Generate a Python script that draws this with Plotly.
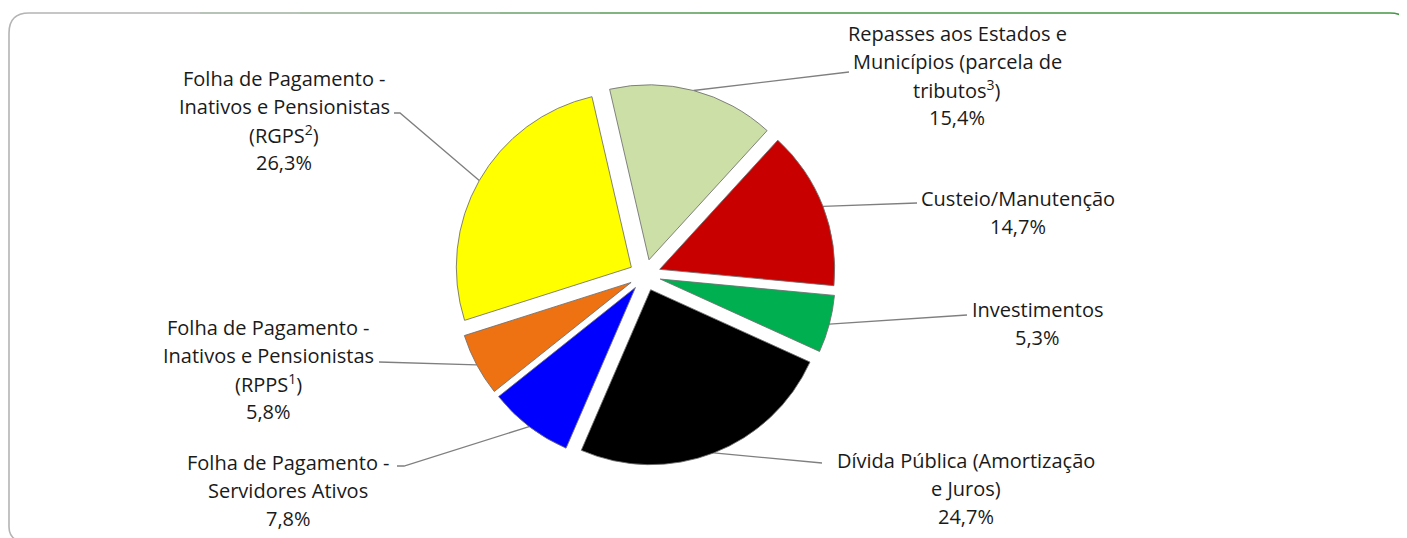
import math
import plotly.graph_objects as go

# ---------------- data ----------------
categories = [
    "Repasses aos Estados e<br>Municípios (parcela de<br>tributos<sup>3</sup>)",
    "Custeio/Manutenção",
    "Investimentos",
    "Dívida Pública (Amortização<br>e Juros)",
    "Folha de Pagamento -<br>Servidores Ativos",
    "Folha de Pagamento -<br>Inativos e Pensionistas<br>(RPPS<sup>1</sup>)",
    "Folha de Pagamento -<br>Inativos e Pensionistas<br>(RGPS<sup>2</sup>)",
]
values = [15.4, 14.7, 5.3, 24.7, 7.8, 5.8, 26.3]
colors = ["#CCDFA6", "#C80000", "#00B050", "#000000", "#0000FF", "#EE7211", "#FFFF00"]

# ---------------- layout constants ----------------
W, H = 1407, 538
OFF = 8                    # page body margin (screen px)
CX, CY = 645.0, 275.0      # pie centre (screen pixels)
R = 175.0                  # pie radius (pixels)
PULL = 0.09
ROTATION = -13.0           # start angle, clockwise from 12 o'clock

# label block centres and leader end points (elbow, end) in screen pixels
label_pos = [
    (957, 75), (1018, 212), (1037, 323), (966, 488),
    (288, 490), (268, 369), (284, 120),
]
leader_ends = [
    [(843, 73), (849, 72)],
    [(917, 203), (917, 203)],
    [(967, 315), (967, 315)],
    [(822, 463), (822, 463)],
    [(404, 466), (397, 466)],
    [(384, 362), (379, 362)],
    [(400, 113), (394, 113)],
]

FONT = "Open Sans"
FS = 20
LS = 28                    # line spacing (px)

half = R * (1 + PULL)
px, py = CX - OFF, CY - OFF
dom_x = [(px - half) / W, (px + half) / W]
dom_y = [(H - py - half) / H, (H - py + half) / H]

fig = go.Figure()

fig.add_trace(go.Pie(
    labels=[c.replace("<br>", " ") for c in categories],
    values=values,
    sort=False,
    direction="clockwise",
    rotation=ROTATION,
    pull=[PULL] * len(values),
    marker=dict(colors=colors, line=dict(color="rgba(110,110,110,0.85)", width=1)),
    textinfo="none",
    hoverinfo="label+percent",
    showlegend=False,
    domain=dict(x=dom_x, y=dom_y),
))

total = sum(values)
ang = ROTATION
for i, v in enumerate(values):
    span = v / total * 360.0
    mid = math.radians(ang + span / 2)
    ang += span
    sx = CX + R * (1 + PULL) * math.sin(mid)
    sy = CY - R * (1 + PULL) * math.cos(mid)
    pts = [(sx, sy)] + leader_ends[i]
    fig.add_trace(go.Scatter(
        x=[p[0] for p in pts], y=[p[1] for p in pts],
        mode="lines", line=dict(color="#7F7F7F", width=1.3),
        hoverinfo="skip", showlegend=False,
    ))
    pct = f"{v:.1f}".replace(".", ",") + "%"
    lines = categories[i].split("<br>") + [pct]
    lx, ly = label_pos[i]
    n = len(lines)
    for k, t in enumerate(lines):
        fig.add_annotation(
            x=lx, y=ly + (k - (n - 1) / 2) * LS, xref="x", yref="y",
            text=t, showarrow=False, align="center",
            xanchor="center", yanchor="middle",
            font=dict(family=FONT, size=FS, color="#1A1A1A"),
        )

# frame (rounded rectangle, grey on the left fading to green on top)
shapes = []
shapes.append(dict(type="path", xref="x", yref="y",
                   path="M 9,527 L 9,33 Q 9,13 29,13 L 200,13",
                   line=dict(color="#B4B4B4", width=1.6)))
shapes.append(dict(type="path", xref="x", yref="y",
                   path="M 9,527 Q 9,536 16,540",
                   line=dict(color="#B4B4B4", width=1.6)))
seg_x = [200, 300, 400, 500, 600, 700, 1390]
c0 = (180, 180, 180)
c1 = (70, 150, 70)
for k in range(len(seg_x) - 1):
    t = (k + 1) / (len(seg_x) - 1)
    c = tuple(int(c0[j] + (c1[j] - c0[j]) * t) for j in range(3))
    shapes.append(dict(type="line", xref="x", yref="y",
                       x0=seg_x[k], x1=seg_x[k + 1], y0=13, y1=13,
                       line=dict(color=f"rgb{c}", width=1.6)))
shapes.append(dict(type="path", xref="x", yref="y",
                   path="M 1390,13 Q 1404,13 1412,24",
                   line=dict(color="rgb(70,150,70)", width=1.6)))
shapes.append(dict(type="line", xref="x", yref="y",
                   x0=27, x1=1400, y0=0.8, y1=0.8,
                   line=dict(color="#E4ECE0", width=1.2)))

fig.update_layout(
    width=W, height=H,
    margin=dict(l=0, r=0, t=0, b=0),
    paper_bgcolor="white", plot_bgcolor="rgba(0,0,0,0)",
    xaxis=dict(range=[OFF, W + OFF], visible=False, fixedrange=True, domain=[0, 1]),
    yaxis=dict(range=[H + OFF, OFF], visible=False, fixedrange=True, domain=[0, 1]),
    shapes=shapes,
    font=dict(family=FONT),
)

fig.write_html("out.html")
